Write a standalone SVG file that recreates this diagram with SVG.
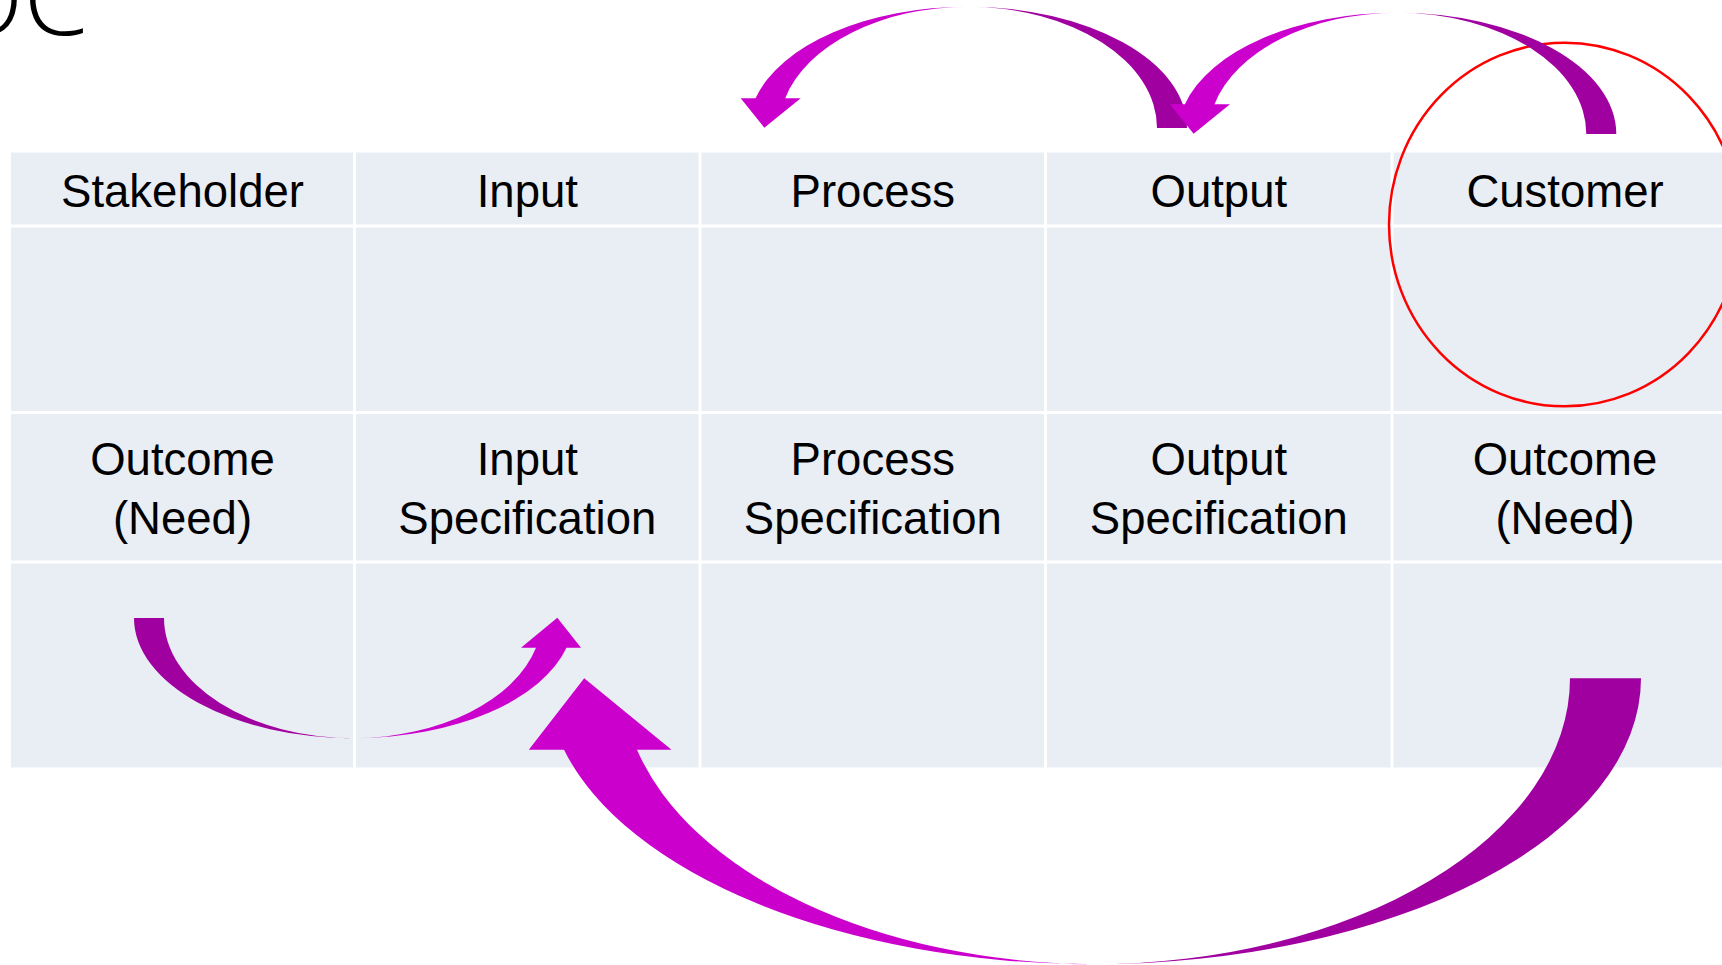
<svg xmlns="http://www.w3.org/2000/svg" width="1722" height="965" viewBox="0 0 1722 965">
<style>
.cell{fill:#E9EDF4}
.lbl{font-family:"Liberation Sans",Arial,sans-serif;font-size:45.5px;fill:#000;text-anchor:middle}
.title{font-family:"Open Sans","Liberation Sans",sans-serif;font-weight:300;font-size:104px;fill:#000;text-anchor:end}
.dark{fill:#A000A0}
.bright{fill:#CC00CC}
</style>
<rect width="1722" height="965" fill="#fff"/>
<text class="title" x="88" y="35">SIPOC</text>
<g id="grid">
<rect class="cell" x="11" y="152.5" width="342" height="72"/>
<rect class="cell" x="356" y="152.5" width="342.5" height="72"/>
<rect class="cell" x="701.5" y="152.5" width="342.5" height="72"/>
<rect class="cell" x="1047" y="152.5" width="343.5" height="72"/>
<rect class="cell" x="1393.5" y="152.5" width="346.5" height="72"/>
<rect class="cell" x="11" y="227.5" width="342" height="183.5"/>
<rect class="cell" x="356" y="227.5" width="342.5" height="183.5"/>
<rect class="cell" x="701.5" y="227.5" width="342.5" height="183.5"/>
<rect class="cell" x="1047" y="227.5" width="343.5" height="183.5"/>
<rect class="cell" x="1393.5" y="227.5" width="346.5" height="183.5"/>
<rect class="cell" x="11" y="414" width="342" height="146.5"/>
<rect class="cell" x="356" y="414" width="342.5" height="146.5"/>
<rect class="cell" x="701.5" y="414" width="342.5" height="146.5"/>
<rect class="cell" x="1047" y="414" width="343.5" height="146.5"/>
<rect class="cell" x="1393.5" y="414" width="346.5" height="146.5"/>
<rect class="cell" x="11" y="563.5" width="342" height="204"/>
<rect class="cell" x="356" y="563.5" width="342.5" height="204"/>
<rect class="cell" x="701.5" y="563.5" width="342.5" height="204"/>
<rect class="cell" x="1047" y="563.5" width="343.5" height="204"/>
<rect class="cell" x="1393.5" y="563.5" width="346.5" height="204"/>
</g>
<g id="h-stakeholder"><text class="lbl" x="182.5" y="207.3">Stakeholder</text></g>
<g id="h-input"><text class="lbl" x="527.3" y="207.3">Input</text></g>
<g id="h-process"><text class="lbl" x="872.8" y="207.3">Process</text></g>
<g id="h-output"><text class="lbl" x="1218.8" y="207.3">Output</text></g>
<g id="h-customer"><text class="lbl" x="1565" y="207.3">Customer</text></g>
<g id="s-outcome1"><text class="lbl" x="182.5" y="475">Outcome</text><text class="lbl" x="182.5" y="534">(Need)</text></g>
<g id="s-input"><text class="lbl" x="527.3" y="475">Input</text><text class="lbl" x="527.3" y="534">Specification</text></g>
<g id="s-process"><text class="lbl" x="872.8" y="475">Process</text><text class="lbl" x="872.8" y="534">Specification</text></g>
<g id="s-output"><text class="lbl" x="1218.8" y="475">Output</text><text class="lbl" x="1218.8" y="534">Specification</text></g>
<g id="s-outcome2"><text class="lbl" x="1565" y="475">Outcome</text><text class="lbl" x="1565" y="534">(Need)</text></g>
<g id="highlight"><ellipse cx="1564.5" cy="224.5" rx="175.5" ry="181.8" fill="none" stroke="#FF0000" stroke-width="2.5"/></g>
<g id="connectors">
<g id="arrow-output-process">
<path class="dark" d="M1187,128 A219 121.3 0 0 0 968,6.7 A189 121.3 0 0 1 1157,128 Z"/>
<path class="bright" d="M968,6.7 A219 121.3 0 0 0 755.6,98.3 L740.7,98.3 L764.3,127.7 L800.7,98.3 L785.2,98.3 A189 121.3 0 0 1 968,6.7 Z"/>
</g>
<g id="arrow-customer-output" transform="translate(429.3,6)">
<path class="dark" d="M1187,128 A219 121.3 0 0 0 968,6.7 A189 121.3 0 0 1 1157,128 Z"/>
<path class="bright" d="M968,6.7 A219 121.3 0 0 0 755.6,98.3 L740.7,98.3 L764.3,127.7 L800.7,98.3 L785.2,98.3 A189 121.3 0 0 1 968,6.7 Z"/>
</g>
<g id="arrow-outcome-input">
<path class="dark" d="M134,618 A220.5 120.3 0 0 0 354.5,738.3 A190.5 120.3 0 0 1 164,618 Z"/>
<path class="bright" d="M354.5,738.3 A220.5 120.3 0 0 0 566.5,647.7 L581,647.7 L557.3,617.7 L521,647.7 L536,647.7 A190.5 120.3 0 0 1 354.5,738.3 Z"/>
</g>
<g id="arrow-need-input">
<path class="dark" d="M1641,678.3 A549 286 0 0 1 1092,964.3 A478 286 0 0 0 1570,678.3 Z"/>
<path class="bright" d="M1092,964.3 A549 286 0 0 1 564,749.7 L528.8,749.7 L584.2,678.3 L671.5,749.7 L637,749.7 A478 286 0 0 0 1092,964.3 Z"/>
</g>
</g>
</svg>
